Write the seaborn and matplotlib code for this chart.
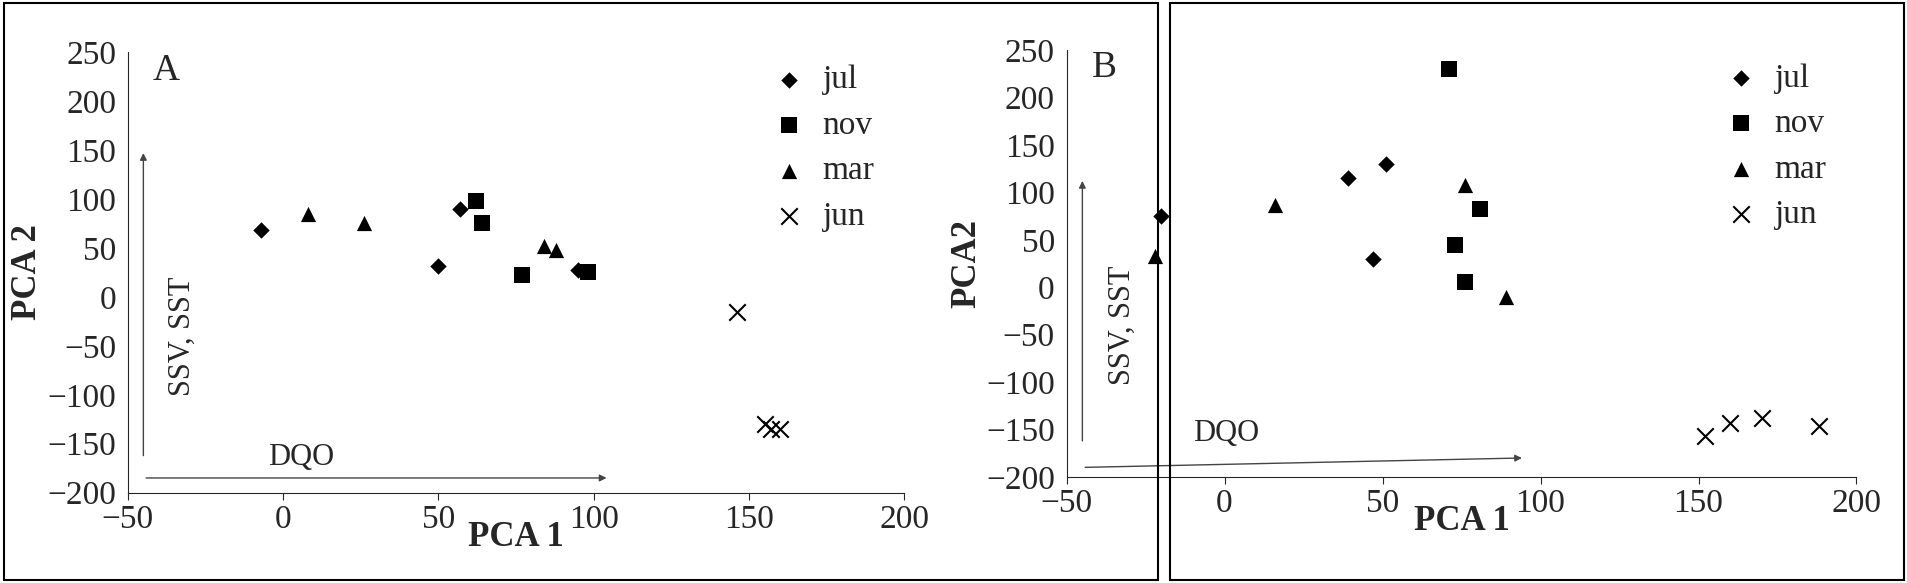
import matplotlib
matplotlib.use('Agg')
import matplotlib.pyplot as plt
import seaborn as sns
import pandas as pd

sns.set_style('white')
plt.rcParams['font.family'] = ['Liberation Serif', 'DejaVu Serif']

# panel A
a_jul_x = [-7, 50, 57, 95]
a_jul_y = [68, 32, 90, 28]
a_nov_x = [62, 64, 77, 98]
a_nov_y = [98, 76, 22, 26]
a_mar_x = [8, 26, 84, 88]
a_mar_y = [85, 76, 52, 48]
a_jun_x = [146, 155, 157, 160]
a_jun_y = [-15, -130, -135, -135]

# panel B
b_jul_x = [-20, 39, 51, 47]
b_jul_y = [75, 115, 130, 30]
b_nov_x = [71, 73, 76, 81]
b_nov_y = [230, 45, 5, 83]
b_mar_x = [-22, 16, 76, 89]
b_mar_y = [33, 87, 108, -10]
b_jun_x = [152, 160, 170, 188]
b_jun_y = [-157, -143, -138, -146]

months = ['jul', 'nov', 'mar', 'jun']
markers = {'jul': 'D', 'nov': 's', 'mar': '^', 'jun': 'x'}
sizes = {'jul': 70, 'nov': 120, 'mar': 120, 'jun': 140}


def make_df(xs, ys):
    rows = []
    for m, x, y in zip(months, xs, ys):
        for xi, yi in zip(x, y):
            rows.append({'x': xi, 'y': yi, 'mes': m})
    return pd.DataFrame(rows)


dfa = make_df([a_jul_x, a_nov_x, a_mar_x, a_jun_x], [a_jul_y, a_nov_y, a_mar_y, a_jun_y])
dfb = make_df([b_jul_x, b_nov_x, b_mar_x, b_jun_x], [b_jul_y, b_nov_y, b_mar_y, b_jun_y])

fig = plt.figure(figsize=(19.08, 5.83), dpi=100)
ax1 = fig.add_axes([0.067, 0.155, 0.407, 0.755])
ax2 = fig.add_axes([0.559, 0.182, 0.414, 0.732])

for ax, df, lab, ylab in [(ax1, dfa, 'A', 'PCA 2'), (ax2, dfb, 'B', 'PCA2')]:
    for m in months:
        d = df[df.mes == m]
        sns.scatterplot(x=d.x, y=d.y, ax=ax, marker=markers[m], color='black',
                        s=sizes[m], linewidth=1.5 if m == 'jun' else 0, label=m)
    ax.set_xlim(-50, 200)
    ax.set_ylim(-200, 250)
    ax.set_xticks(range(-50, 201, 50))
    ax.set_yticks(range(-200, 251, 50))
    ax.tick_params(labelsize=24, bottom=True, length=5)
    for s in ['top', 'right']:
        ax.spines[s].set_visible(False)
    ax.set_xlabel('PCA 1', fontsize=25, fontweight='bold', labelpad=-10)
    ax.set_ylabel(ylab, fontsize=25, fontweight='bold', labelpad=2)
    ax.text(-42, 222, lab, fontsize=27)
    ax.legend(loc='upper right', bbox_to_anchor=(1.0, 1.04), frameon=False,
              fontsize=24, handletextpad=0.0, labelspacing=0.45)

ax1.annotate('', xy=(-45, 150), xytext=(-45, -165),
             arrowprops=dict(arrowstyle='-|>', color='#444', lw=1))
ax1.annotate('', xy=(105, -185), xytext=(-45, -185),
             arrowprops=dict(arrowstyle='-|>', color='#444', lw=1))
ax1.text(-37, -40, 'SSV, SST', rotation=90, fontsize=22, va='center')
ax1.text(-5, -172, 'DQO', fontsize=22)

ax2.annotate('', xy=(-45, 115), xytext=(-45, -165),
             arrowprops=dict(arrowstyle='-|>', color='#444', lw=1))
ax2.annotate('', xy=(95, -180), xytext=(-45, -190),
             arrowprops=dict(arrowstyle='-|>', color='#444', lw=1))
ax2.text(-37, -40, 'SSV, SST', rotation=90, fontsize=22, va='center')
ax2.text(-10, -162, 'DQO', fontsize=22)

# outer frames
fig.patches.append(plt.Rectangle((0.002, 0.005), 0.605, 0.99, transform=fig.transFigure,
                                 fill=False, lw=1.5, color='black'))
fig.patches.append(plt.Rectangle((0.613, 0.005), 0.385, 0.99, transform=fig.transFigure,
                                 fill=False, lw=1.5, color='black'))

fig.savefig('out.png', dpi=100)
